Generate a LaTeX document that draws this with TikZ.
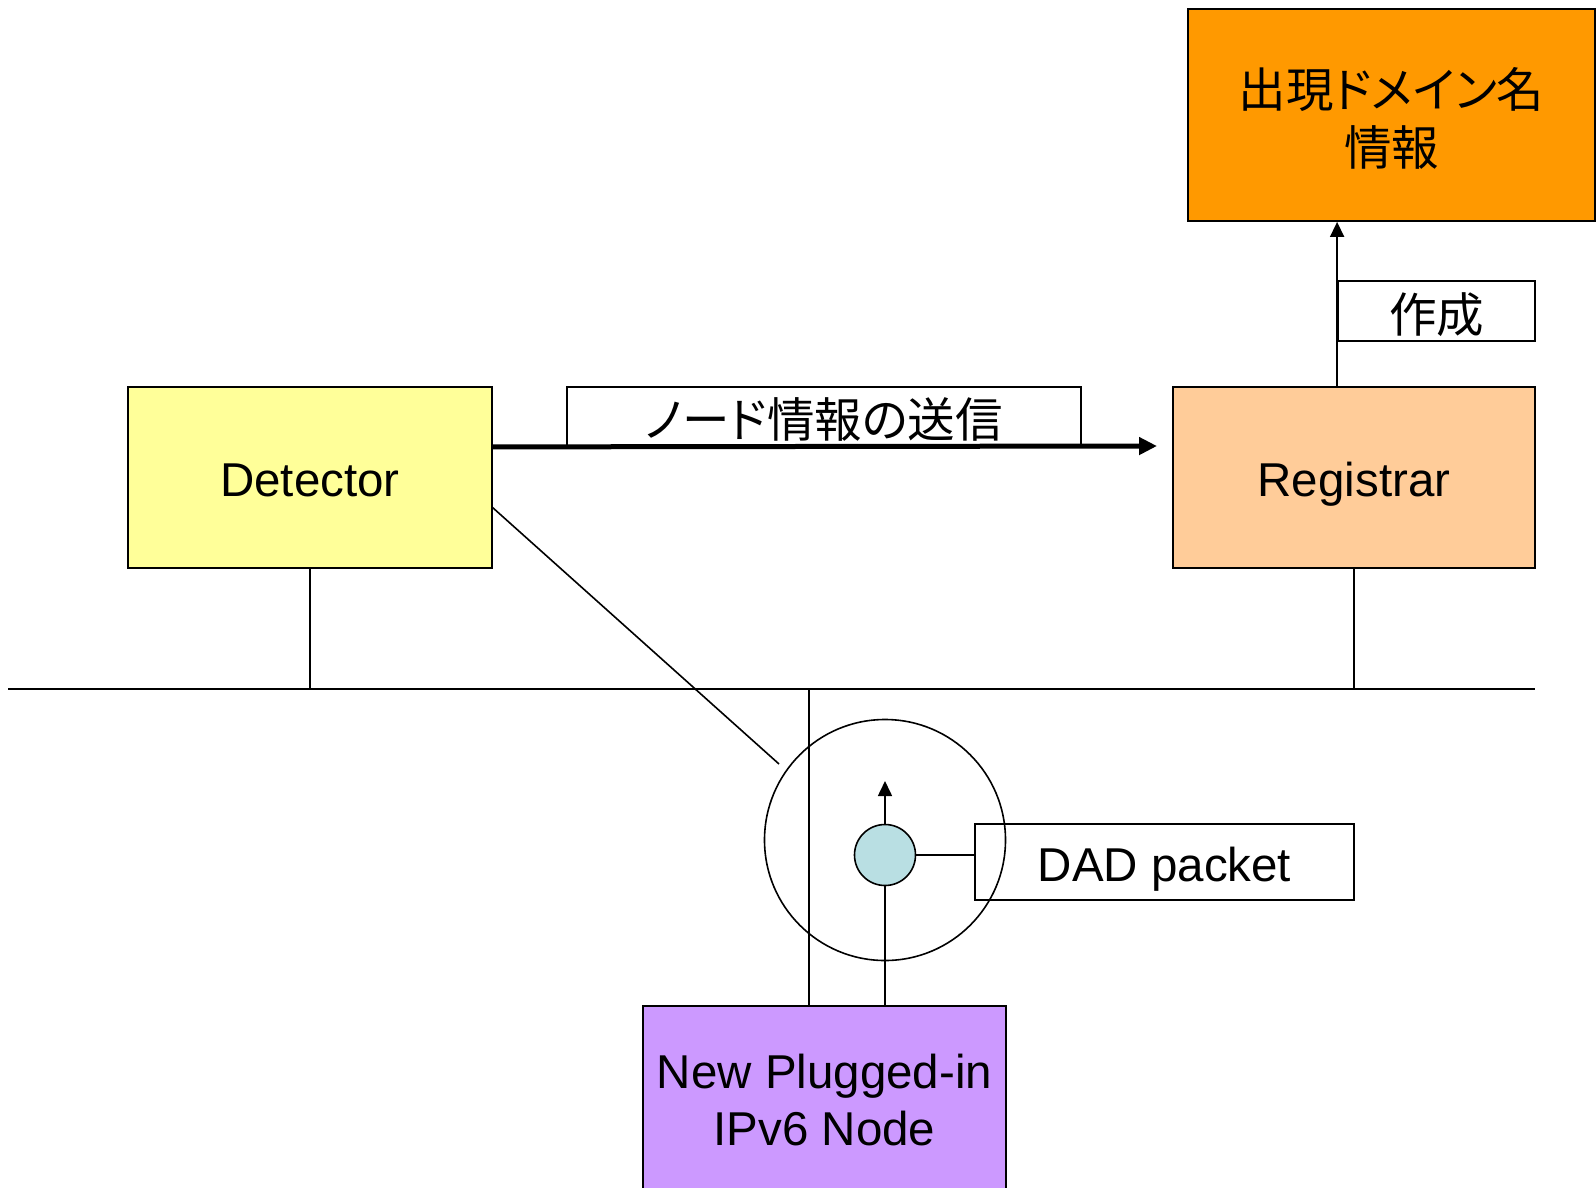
\documentclass[tikz,border=0pt]{standalone}
\usepackage{fontspec}
\setmainfont{Liberation Sans}
\newfontfamily\cjk[RawFeature=+palt]{Noto Sans CJK JP}
\usetikzlibrary{arrows.meta}
\definecolor{detfill}{HTML}{FFFF99}
\definecolor{regfill}{HTML}{FFCC99}
\definecolor{orgfill}{HTML}{FF9900}
\definecolor{purfill}{HTML}{CC99FF}
\definecolor{pktfill}{HTML}{B9DFE3}
\begin{document}
\begin{tikzpicture}[x=1pt,y=-1pt,line width=1.6pt,
  box/.style={draw,rectangle,inner sep=0pt,line width=1.8pt},
  latin/.style={font=\fontsize{47.5}{57}\selectfont,align=center},
  latin1/.style={latin,text height=43pt,text depth=5pt},
  jp/.style={font=\cjk\fontsize{47.5}{58}\selectfont,align=center},
  jp1/.style={jp,text height=44pt,text depth=2pt},
  thinarrow/.style={-{Triangle[length=15pt,width=14pt]}}]
\useasboundingbox (0,0) rectangle (1596,1187);
% boxes
\node[box,fill=detfill,minimum width=364pt,minimum height=181pt,latin1] (det) at (310,477.5) {Detector};
\node[box,fill=regfill,minimum width=362pt,minimum height=181pt,latin1] (reg) at (1354,477.5) {Registrar};
\node[box,fill=orgfill,minimum width=407pt,minimum height=212pt] (info) at (1391.5,115) {};
\node[jp] (infotxt) at ([yshift=-3.6pt]info.center) {出現ドメイン名\\情報};
\node[box,minimum width=197pt,minimum height=60pt,jp1] (make) at (1436.5,311) {作成};
\node[box,minimum width=514pt,minimum height=59pt,jp1] (send) at (824,416.5) {ノード情報の送信};
\node[box,minimum width=379pt,minimum height=76pt,latin1] (dad) at (1164.5,862) {DAD packet};
\node[box,fill=purfill,minimum width=363pt,minimum height=189pt,latin] (new) at (824.5,1100.5) {New Plugged-in\\IPv6 Node};
% circles
\node[draw,circle,inner sep=0pt,minimum size=241pt] (ring) at (885,840) {};
\node[draw,circle,fill=pktfill,inner sep=0pt,minimum size=61pt] (pkt) at (885,855) {};
% coordinates
\coordinate (busL) at (8,689);
\coordinate (busR) at (1535,689);
\coordinate (tap) at (809,689);
\coordinate (diagS) at (492,507);
\coordinate (diagE) at (779,764);
\coordinate (up) at (885,781);
\coordinate (sendEnd) at (1157,446);
% connectors
\draw (busL) -- (busR);
\draw (det.south) -- (det.south |- busL);
\draw (reg.south) -- (reg.south |- busL);
\draw (tap) -- (tap |- new.north);
\draw (diagS) -- (diagE);
\draw[thinarrow] (pkt.north) -- (up);
\draw (pkt.south) -- (pkt.south |- new.north);
\draw (pkt.east) -- (dad.west |- pkt.east);
\draw[thinarrow] (reg.north -| make.west) -- (make.west |- info.south);
\draw[line width=5pt,-{Triangle[length=18pt,width=17pt]}] (det.east |- send.south) -- (sendEnd);
\end{tikzpicture}
\end{document}
